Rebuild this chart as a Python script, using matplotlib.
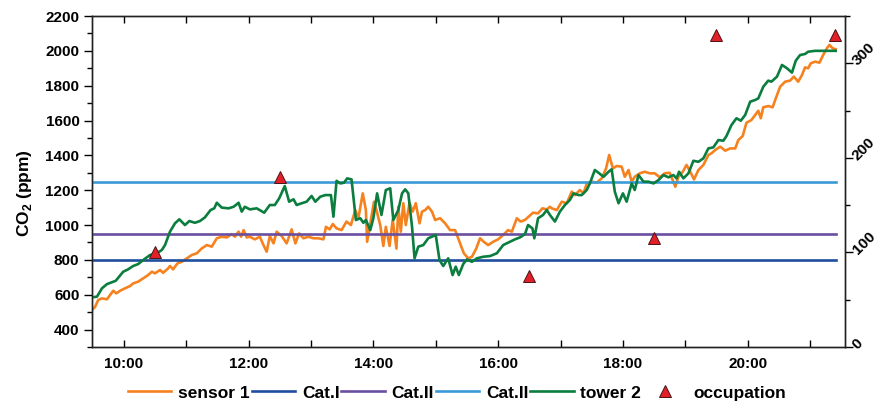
import matplotlib
matplotlib.use('Agg')
import matplotlib.pyplot as plt
from matplotlib.ticker import FixedLocator, MultipleLocator

plt.rcParams['font.family'] = ['Liberation Sans', 'DejaVu Sans']
plt.rcParams['font.weight'] = 'bold'
plt.rcParams['mathtext.fontset'] = 'custom'
plt.rcParams['mathtext.rm'] = 'Liberation Sans:bold'
plt.rcParams['mathtext.bf'] = 'Liberation Sans:bold'

# ---------------- data (time in decimal hours) ----------------
sensor1_time = [9.49, 9.54, 9.59, 9.65, 9.73, 9.78, 9.83, 9.88, 9.94, 10.02, 10.10, 10.15, 10.23,
                10.31, 10.39, 10.45, 10.50, 10.58, 10.63, 10.71, 10.74, 10.79, 10.86, 10.93, 11.01,
                11.09, 11.17, 11.25, 11.33, 11.41, 11.49, 11.57, 11.65, 11.73, 11.78, 11.84, 11.88,
                11.92, 11.97, 12.02, 12.10, 12.18, 12.25, 12.29, 12.34, 12.40, 12.45, 12.53, 12.61,
                12.69, 12.75, 12.81, 12.88, 12.96, 13.04, 13.12, 13.20, 13.24, 13.30, 13.35, 13.41,
                13.49, 13.57, 13.64, 13.71, 13.76, 13.83, 13.88, 13.90, 13.96, 14.01, 14.05, 14.11,
                14.16, 14.20, 14.26, 14.31, 14.37, 14.40, 14.44, 14.48, 14.52, 14.58, 14.63, 14.68,
                14.74, 14.78, 14.83, 14.88, 14.94, 14.99, 15.07, 15.15, 15.23, 15.31, 15.39, 15.45,
                15.52, 15.58, 15.65, 15.71, 15.77, 15.84, 15.92, 16.00, 16.08, 16.16, 16.22, 16.30,
                16.36, 16.43, 16.50, 16.56, 16.64, 16.71, 16.78, 16.83, 16.86, 16.94, 17.02, 17.10,
                17.18, 17.23, 17.31, 17.37, 17.42, 17.50, 17.58, 17.66, 17.73, 17.78, 17.84, 17.90,
                17.98, 18.03, 18.09, 18.14, 18.19, 18.27, 18.35, 18.43, 18.51, 18.59, 18.67, 18.75,
                18.84, 18.89, 18.96, 19.02, 19.08, 19.14, 19.21, 19.29, 19.37, 19.42, 19.48, 19.56,
                19.64, 19.72, 19.80, 19.85, 19.92, 19.98, 20.06, 20.12, 20.17, 20.21, 20.25, 20.33,
                20.40, 20.45, 20.52, 20.60, 20.68, 20.74, 20.81, 20.87, 20.92, 20.97, 21.01, 21.08,
                21.15, 21.21, 21.27, 21.31, 21.36, 21.41]
sensor1_ppm = [512, 531, 570, 579, 574, 598, 623, 608, 623, 637, 650, 665, 675,
               694, 713, 732, 723, 742, 726, 751, 765, 746, 780, 789, 809,
               828, 838, 866, 885, 876, 924, 933, 929, 948, 933, 962, 933,
               971, 929, 933, 918, 933, 876, 847, 937, 895, 962, 937, 895,
               975, 895, 952, 924, 933, 924, 924, 918, 990, 975, 1006, 981,
               971, 1020, 1000, 1086, 1039, 1182, 1086, 904, 1029, 1134, 1086, 1000,
               880, 990, 880, 1030, 865, 1105, 962, 1125, 1000, 1128, 1077, 1125,
               1010, 1077, 1086, 1105, 1077, 1029, 1039, 1010, 971, 971, 895, 838,
               809, 818, 866, 924, 904, 885, 904, 918, 943, 971, 962, 1039,
               1020, 1029, 1052, 1071, 1067, 1096, 1090, 1105, 1096, 1086, 1134, 1125,
               1192, 1172, 1201, 1182, 1239, 1249, 1243, 1268, 1325, 1402, 1325, 1339,
               1335, 1277, 1316, 1249, 1277, 1297, 1306, 1297, 1297, 1274, 1297, 1300,
               1220, 1277, 1306, 1345, 1306, 1262, 1316, 1345, 1402, 1412, 1431, 1450,
               1427, 1440, 1440, 1488, 1511, 1587, 1603, 1632, 1656, 1613, 1676, 1683,
               1676, 1727, 1794, 1823, 1829, 1852, 1823, 1861, 1905, 1900, 1928, 1938,
               1932, 1976, 2015, 2034, 2015, 2009]

tower2_time = [9.49, 9.57, 9.65, 9.73, 9.83, 9.87, 9.99, 10.07, 10.15, 10.23, 10.31, 10.42, 10.53,
               10.61, 10.66, 10.74, 10.82, 10.89, 10.98, 11.05, 11.14, 11.22, 11.30, 11.39, 11.45,
               11.49, 11.57, 11.68, 11.76, 11.84, 11.89, 11.94, 12.02, 12.13, 12.25, 12.34, 12.42,
               12.49, 12.58, 12.65, 12.72, 12.77, 12.85, 12.93, 13.01, 13.07, 13.15, 13.23, 13.32,
               13.36, 13.41, 13.47, 13.53, 13.58, 13.65, 13.72, 13.79, 13.84, 13.88, 13.95, 14.00,
               14.06, 14.13, 14.20, 14.27, 14.32, 14.40, 14.46, 14.51, 14.56, 14.62, 14.66, 14.72,
               14.80, 14.88, 14.96, 15.00, 15.06, 15.12, 15.20, 15.27, 15.32, 15.37, 15.44, 15.50,
               15.58, 15.66, 15.76, 15.87, 15.98, 16.08, 16.19, 16.27, 16.35, 16.43, 16.48, 16.55,
               16.58, 16.64, 16.72, 16.78, 16.83, 16.91, 16.99, 17.07, 17.15, 17.21, 17.29, 17.34,
               17.42, 17.47, 17.55, 17.62, 17.69, 17.77, 17.82, 17.87, 17.93, 18.00, 18.06, 18.14,
               18.19, 18.25, 18.33, 18.41, 18.49, 18.57, 18.65, 18.73, 18.81, 18.86, 18.90, 18.97,
               19.05, 19.13, 19.21, 19.29, 19.37, 19.45, 19.53, 19.61, 19.66, 19.74, 19.82, 19.89,
               19.96, 20.04, 20.12, 20.17, 20.25, 20.33, 20.38, 20.47, 20.55, 20.63, 20.71, 20.77,
               20.84, 20.92, 20.97, 21.08, 21.21, 21.41]
tower2_ppm = [585, 589, 637, 661, 675, 680, 732, 746, 765, 776, 799, 828, 838,
              857, 885, 962, 1010, 1033, 1000, 1023, 1013, 1023, 1044, 1086, 1096,
              1128, 1100, 1096, 1105, 1128, 1077, 1105, 1090, 1096, 1071, 1115, 1115,
              1153, 1224, 1134, 1148, 1115, 1125, 1134, 1167, 1134, 1163, 1172, 1172,
              1048, 1254, 1239, 1243, 1268, 1262, 1029, 1039, 1013, 1029, 971, 1039,
              1182, 1058, 1201, 1211, 1029, 1086, 1182, 1205, 1182, 990, 809, 876,
              885, 924, 937, 943, 799, 765, 809, 713, 761, 713, 776, 803,
              789, 809, 818, 822, 838, 885, 904, 918, 929, 948, 1000, 981,
              924, 1039, 1058, 1086, 1058, 1020, 1077, 1115, 1144, 1182, 1172, 1172,
              1201, 1239, 1316, 1297, 1277, 1306, 1320, 1192, 1125, 1182, 1134, 1239,
              1201, 1287, 1249, 1249, 1239, 1258, 1287, 1274, 1287, 1268, 1306, 1268,
              1297, 1369, 1363, 1383, 1440, 1446, 1488, 1484, 1511, 1574, 1613, 1599,
              1632, 1708, 1718, 1727, 1794, 1829, 1823, 1852, 1919, 1900, 1875, 1943,
              1976, 1982, 1995, 2000, 2000, 2000]

cat_labels = ['Cat.I', 'Cat.II', 'Cat.II']
cat_levels = [800, 950, 1250]

occupation_time = [10.5, 12.5, 16.5, 18.5, 19.5, 21.4]
occupation_count = [100, 180, 75, 115, 330, 330]

xtick_hours = [10, 12, 14, 16, 18, 20]
xtick_labels = ['10:00', '12:00', '14:00', '16:00', '18:00', '20:00']

# ---------------- style ----------------
c_orange = '#F5821F'
c_green = '#0B7D3E'
cat_colors = ['#1F4E9F', '#6A4FA1', '#3B9BD8']
c_red = '#E2202A'

fig = plt.figure(figsize=(8.76, 4.05), dpi=100)
ax = fig.add_axes([92 / 876, 1 - 347 / 405, (845 - 92) / 876, (347 - 16) / 405])

lw = 1.9
h_sensor, = ax.plot(sensor1_time, sensor1_ppm, color=c_orange, lw=lw, label='sensor 1', zorder=2)
cat_handles = []
for lab, lev, col in zip(cat_labels, cat_levels, cat_colors):
    h, = ax.plot([sensor1_time[0], sensor1_time[-1]], [lev, lev], color=col, lw=lw, label=lab, zorder=3)
    cat_handles.append(h)
h_tower, = ax.plot(tower2_time, tower2_ppm, color=c_green, lw=lw, label='tower 2', zorder=4)

ax.set_xlim(9.49, 21.56)
ax.set_ylim(300, 2200)
ax.yaxis.set_major_locator(FixedLocator(list(range(400, 2201, 200))))
ax.yaxis.set_minor_locator(MultipleLocator(100))
ax.xaxis.set_major_locator(FixedLocator(xtick_hours))
ax.set_xticklabels(xtick_labels)
ax.xaxis.set_minor_locator(MultipleLocator(1))
ax.tick_params(axis='x', which='both', direction='in', top=True, length=5, width=1,
               labelsize=11, pad=7)
ax.tick_params(axis='y', which='major', direction='out', length=6, width=1, labelsize=11, pad=3)
ax.tick_params(axis='y', which='minor', direction='out', length=3.5, width=1)
for s in ax.spines.values():
    s.set_linewidth(1.0)
    s.set_color('#222222')

ax.set_ylabel('CO$_{\\mathbf{2}}$ (ppm)', fontsize=12.5, fontweight='bold', va='center')
ax.yaxis.set_label_coords(-(92 - 24) / 753, (347 - 193) / 331)

ax2 = ax.twinx()
h_occ, = ax2.plot(occupation_time, occupation_count, linestyle='none', marker='^', ms=9,
                  mfc=c_red, mec='#4a1515', mew=0.7, label='occupation', zorder=5)
ax2.set_ylim(0, 350)
ax2.yaxis.set_major_locator(FixedLocator([0, 100, 200, 300]))
ax2.yaxis.set_minor_locator(MultipleLocator(50))
ax2.tick_params(axis='y', which='major', direction='out', length=6, width=1, labelsize=11, pad=1)
ax2.tick_params(axis='y', which='minor', direction='out', length=3.5, width=1)
for t in ax2.get_yticklabels():
    t.set_rotation(45)
    t.set_rotation_mode('anchor')
    t.set_ha('left')
    t.set_va('center')
for s in ax2.spines.values():
    s.set_linewidth(1.0)
    s.set_color('#222222')

handles = [h_sensor] + cat_handles + [h_tower, h_occ]
fig.legend(handles=handles, labels=[h.get_label() for h in handles], loc='center',
           bbox_to_anchor=(457 / 876, 1 - 393 / 405), ncol=6, frameon=False, fontsize=12.5,
           handlelength=2.5, handletextpad=0.4, columnspacing=0.1, borderaxespad=0)

fig.savefig('out.png', dpi=100)
